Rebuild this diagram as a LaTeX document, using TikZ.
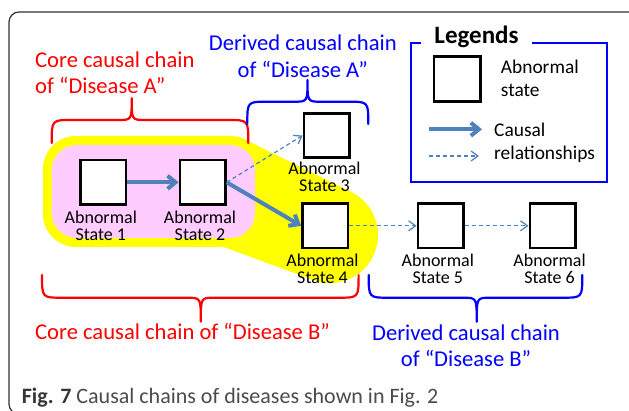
\documentclass[tikz,border=0pt]{standalone}
\usepackage{fontspec}
\setmainfont{Carlito}
\usetikzlibrary{arrows.meta}

\definecolor{arrowblue}{RGB}{79,129,189}
\definecolor{hilite}{RGB}{255,255,0}
\definecolor{corepink}{RGB}{255,204,255}
\definecolor{chainred}{RGB}{255,0,0}
\definecolor{chainblue}{RGB}{0,0,255}
\definecolor{framegray}{RGB}{50,50,50}
\definecolor{capdark}{RGB}{55,55,55}
\definecolor{caplight}{RGB}{75,75,75}

\begin{document}
\begin{tikzpicture}[x=1pt,y=-1pt,
  statebox/.style={draw=black, line width=2.7pt, fill=white,
    minimum width=45.3pt, minimum height=44.6pt, inner sep=0pt},
  statelabel/.style={font=\fontsize{18}{17}\selectfont, align=center,
    inner sep=0pt, anchor=base},
  causal/.style={draw=arrowblue, line width=4pt,
    -{Straight Barb[length=8pt,width=13pt]}},
  weak/.style={draw=arrowblue, line width=1.2pt, dash pattern=on 4pt off 3pt,
    -{Straight Barb[length=7pt,width=10pt]}},
  brace/.style={line width=2.2pt, line cap=round, line join=round},
  chaintext/.style={font=\fontsize{22.6}{26.5}\selectfont, inner sep=0pt},
  legendtext/.style={font=\fontsize{19.4}{23.2}\selectfont, inner sep=0pt,
    align=left, anchor=base west},
]
\useasboundingbox (0,0) rectangle (629,411);
\fill[white] (0,0) rectangle (629,411);
\clip (0,0) rectangle (629,411);

% outer frame, running off the right and bottom edges
\draw[framegray, line width=1.2pt, rounded corners=10pt] (9,12) rectangle (660,414);

% highlighted region of the core chain of disease B
\fill[hilite, rounded corners=33pt] (43,136) rectangle (263,247);
\fill[hilite] (330,235) circle[radius=48pt];
\fill[hilite] (244.6,139.4) -- (351.2,191.9) -- (313.3,280) -- (218.5,245) -- cycle;

% core chain of disease A
\fill[corepink, rounded corners=25pt] (51.7,145) rectangle (255,238);

% abnormal states
\node[statebox] (s1) at (103.3,182.3) {};
\node[statebox] (s2) at (202.7,182.3) {};
\node[statebox] (s3) at (326.5,135.5) {};
\node[statebox] (s4) at (325.2,225.8) {};
\node[statebox] (s5) at (440.6,225.8) {};
\node[statebox] (s6) at (552.5,225.8) {};

% labels are placed by the baseline of their last line
\node[statelabel] (l1) at (100.8,240.5) {Abnormal\\State 1};
\node[statelabel] (l2) at (200.0,240.5) {Abnormal\\State 2};
\node[statelabel] (l3) at (324.5,191.7) {Abnormal\\State 3};
\node[statelabel] (l4) at (322.5,283.5) {Abnormal\\State 4};
\node[statelabel] (l5) at (437.8,283.5) {Abnormal\\State 5};
\node[statelabel] (l6) at (549.6,283.5) {Abnormal\\State 6};

% causal relationships
\draw[causal] (s1.east) -- (s2.west);
\draw[causal] (s2.east) -- (s4.west);
\draw[weak] (s2.east) -- (s3.west);
\draw[weak] (s4.east) -- (s5.west);
\draw[weak] (s5.east) -- (s6.west);

% braces
\draw[brace, chainred] (51.7,143) .. controls (51.7,120) .. (72,120) -- (118,120)
  .. controls (131.7,120) .. (131.7,98.3) .. controls (131.7,120) .. (145.4,120)
  -- (228,120) .. controls (248.3,120) .. (248.3,143);
\draw[brace, chainblue] (247.3,124) .. controls (247.3,101.7) .. (267,101.7) -- (294,101.7)
  .. controls (307.5,101.7) .. (307.5,80) .. controls (307.5,101.7) .. (321,101.7)
  -- (348.3,101.7) .. controls (368.3,101.7) .. (368.3,124);
\draw[brace, chainred] (42,275) .. controls (42,297.7) .. (62,297.7) -- (187,297.7)
  .. controls (200.8,297.7) .. (200.8,321.7) .. controls (200.8,297.7) .. (214.6,297.7)
  -- (338.6,297.7) .. controls (358.6,297.7) .. (358.6,275);
\draw[brace, chainblue] (368.7,275) .. controls (368.7,297.7) .. (388.7,297.7) -- (463,297.7)
  .. controls (476.7,297.7) .. (476.7,321.7) .. controls (476.7,297.7) .. (490.4,297.7)
  -- (562.3,297.7) .. controls (582.3,297.7) .. (582.3,275);

% chain captions
\node[chaintext, chainred, align=left, anchor=base west] (coreA) at (35,94)
  {Core causal chain\\of “Disease A”};
\node[chaintext, chainblue, align=center, anchor=base] (derA) at (302.8,77.3)
  {Derived causal chain\\of “Disease A”};
\node[chaintext, chainred, anchor=base west] (coreB) at (35,339.3)
  {Core causal chain of “Disease B”};
\node[chaintext, chainblue, align=center, anchor=base] (derB) at (466,366.7)
  {Derived causal chain\\of “Disease B”};

% legend
\node[draw=chainblue, line width=1.8pt, minimum width=196pt, minimum height=139.3pt,
  inner sep=0pt] (legend) at (509,112.35) {};
\node[fill=white, font=\bfseries\fontsize{25}{30}\selectfont, inner xsep=13pt,
  inner ysep=2pt, anchor=base] (legendtitle) at (476.5,43.3) {Legends};
\node[statebox, minimum width=46.3pt, minimum height=45pt] (legendbox) at (457.2,78.8) {};
\node[legendtext] (legendstate) at (500.7,96.7) {Abnormal\\state};
\node[legendtext] (legendcausal) at (494,160) {Causal\\relationships};
\coordinate (la1) at (429,129.3);
\coordinate (la2) at (482,129.3);
\coordinate (lb1) at (429,156);
\coordinate (lb2) at (479,156);
\draw[causal] (la1) -- (la2);
\draw[weak] (lb1) -- (lb2);

% figure caption
\node[font=\fontsize{22}{26}\selectfont, text=caplight, inner sep=0pt, anchor=base west]
  (caption) at (21.7,403.3) {\textcolor{capdark}{\bfseries Fig. 7} Causal chains of diseases shown in Fig. 2};
\end{tikzpicture}
\end{document}
